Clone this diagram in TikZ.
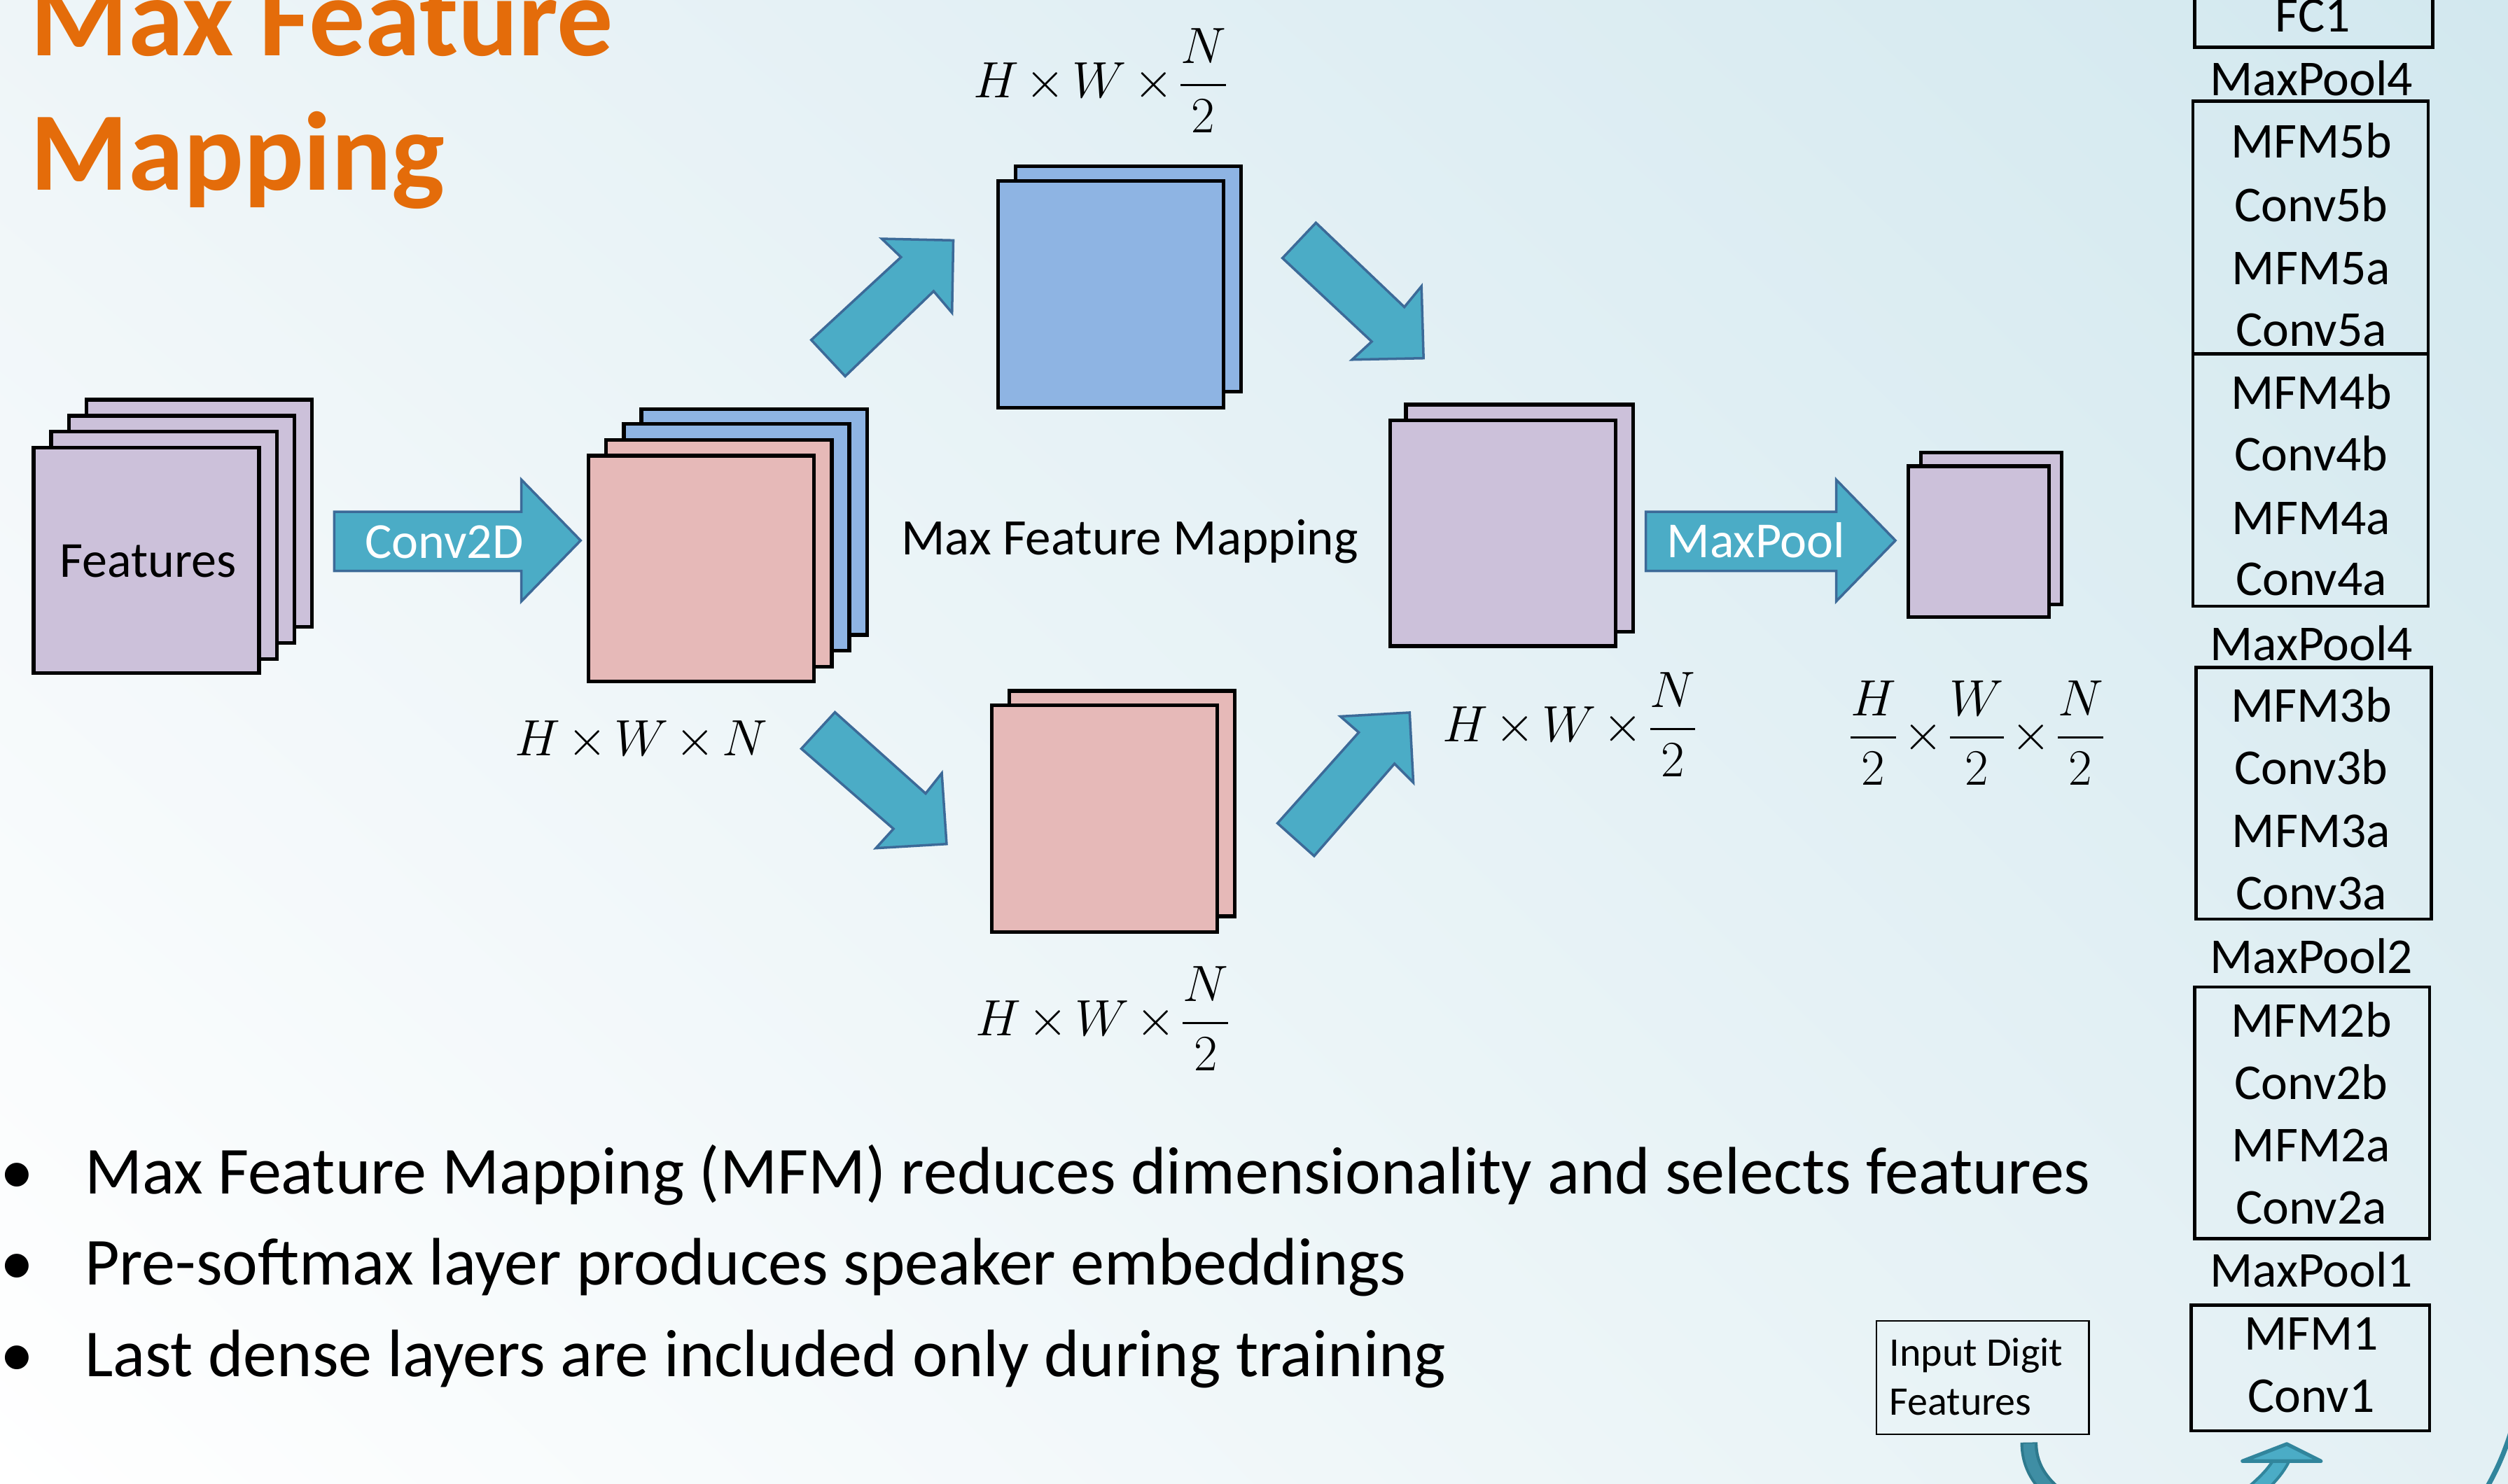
\documentclass[tikz,border=0pt]{standalone}
\usepackage{fontspec}
\setmainfont{Carlito}
\usepackage{amsmath}
\usetikzlibrary{calc,shadings}
\AtBeginDocument{\nulldelimiterspace=0pt\relax\medmuskip=2.5mu plus 1mu minus 2mu\relax}
\definecolor{lav}{HTML}{CCC1DA}
\definecolor{pinkc}{HTML}{E6B9B8}
\definecolor{bluec}{HTML}{8EB4E3}
\definecolor{arrowfill}{HTML}{4BACC6}
\definecolor{arrowedge}{HTML}{3C6A98}
\definecolor{orangec}{HTML}{E46C0A}
\definecolor{curveedge}{HTML}{2E7A8E}
\definecolor{curvefill}{HTML}{3F8EA4}
\definecolor{headedge}{HTML}{31859C}
\definecolor{bgUL}{HTML}{EEF5F8}
\definecolor{bgUR}{HTML}{D2E8EF}
\definecolor{bgLR}{HTML}{E3F0F4}
\tikzset{
  layer/.style={draw=black, line width=1.5pt},
  blockarrow/.style={fill=arrowfill, draw=arrowedge, line width=1pt, line join=miter},
  lbl/.style={inner sep=0pt, outer sep=0pt, font=\fontsize{20.5}{24}\selectfont},
  arrowlbl/.style={lbl, text=white},
  colbox/.style={draw=black, line width=1.3pt},
  coltxt/.style={inner sep=0pt, outer sep=0pt, anchor=base, font=\fontsize{20.4}{24}\selectfont},
  mathlbl/.style={inner sep=0pt, outer sep=0pt, anchor=base west, font=\fontsize{19.3}{23}\selectfont},
  bullettxt/.style={inner sep=0pt, outer sep=0pt, anchor=base west, font=\fontsize{27.3}{32}\selectfont},
  titletxt/.style={inner sep=0pt, outer sep=0pt, anchor=base west, text=orangec, font=\fontsize{45.5}{52}\selectfont\bfseries},
}
\begin{document}
\begin{tikzpicture}[x=0.65pt, y=-0.65pt]
\useasboundingbox (0,0) rectangle (1568,928);
\clip (0,0) rectangle (1568,928);
\shade[upper left=bgUL, upper right=bgUR, lower left=white, lower right=bgLR] (0,0) rectangle (1568,928);

% title
\node[titletxt] (title1) at (19,35) {Max Feature};
\node[titletxt] (title2) at (19,119) {Mapping};

% features stack
\draw[layer, fill=lav] (54,250) rectangle (195,392);
\draw[layer, fill=lav] (43,260) rectangle (184,402);
\draw[layer, fill=lav] (32,270) rectangle (173,412);
\draw[layer, fill=lav] (21,280) rectangle (162,421);
\node[lbl, anchor=base] (feat) at (92.7,361) {Features};

% Conv2D arrow
\draw[blockarrow] (209,320) -- (326,320) -- (326,300) -- (363,338) -- (326,376) -- (326,357) -- (209,357) -- cycle;
\node[arrowlbl, anchor=base] (conv) at (277.7,349) {Conv2D};

% conv output stack
\draw[layer, fill=bluec] (401,256) rectangle (542,397);
\draw[layer, fill=bluec] (390,265) rectangle (531,407);
\draw[layer, fill=pinkc] (379,275) rectangle (520,417);
\draw[layer, fill=pinkc] (368,285) rectangle (509,426);
\node[mathlbl] (dimN) at (322,472.6) {$H\times W\times N$};

% diagonal arrows
\draw[blockarrow] (507.2,212.6) -- (563.3,160.8) -- (551.3,149.3) -- (596,150.3) -- (595.2,195.6) -- (583.7,182.1) -- (528.4,235.3) -- cycle;
\draw[blockarrow] (822.7,139.3) -- (878,192) -- (888.7,179) -- (890,224) -- (845.3,224.9) -- (857.6,213.6) -- (801.8,161.4) -- cycle;
\draw[blockarrow] (522,445.4) -- (578.7,496.2) -- (588.8,483.5) -- (591.8,527.8) -- (547.6,530.4) -- (558.6,518.3) -- (501,468.2) -- cycle;
\draw[blockarrow] (821.6,535.3) -- (871.8,477.6) -- (883.6,489.4) -- (881.3,445.6) -- (838,448) -- (849.5,458) -- (798.7,514.8) -- cycle;

% top blue stack
\draw[layer, fill=bluec] (635,104) rectangle (776,245);
\draw[layer, fill=bluec] (624,113) rectangle (765,255);
\node[mathlbl] (dimTop) at (608.5,61) {$H\times W\times \dfrac{N}{2}$};

% bottom pink stack
\draw[layer, fill=pinkc] (631,432) rectangle (772,573);
\draw[layer, fill=pinkc] (620,441) rectangle (761,583);
\node[mathlbl] (dimBot) at (610,647.6) {$H\times W\times \dfrac{N}{2}$};

\node[lbl, anchor=base, font=\fontsize{20.8}{24}\selectfont] (mfmtxt) at (706.3,347) {Max Feature Mapping};

% merged purple stack
\draw[layer, fill=lav] (879,253) rectangle (1021,395);
\draw[layer, fill=lav] (869,263) rectangle (1010,404);
\node[mathlbl] (dimMid) at (902,464) {$H\times W\times \dfrac{N}{2}$};

% MaxPool arrow
\draw[blockarrow] (1029,320) -- (1148,320) -- (1148,300) -- (1185,338) -- (1148,376) -- (1148,357) -- (1029,357) -- cycle;
\node[arrowlbl, anchor=base] (pool) at (1097.8,348.8) {MaxPool};

% small purple stack
\draw[layer, fill=lav] (1201,283) rectangle (1289,378);
\draw[layer, fill=lav] (1193,291.5) rectangle (1281,386);
\node[mathlbl] (dimQ) at (1157,469) {$\dfrac{H}{2}\times\dfrac{W}{2}\times\dfrac{N}{2}$};

% right column
\draw[colbox] (1372,-20) rectangle (1521,29.6);
\node[coltxt] (fc1) at (1446,20) {FC1};
\node[coltxt] (mp4a) at (1445,59.8) {MaxPool4};
\draw[colbox] (1371,63.3) rectangle (1518,379);
\draw[colbox] (1371,221.2) -- (1518,221.2);
\node[coltxt] (m5b) at (1445,98.5) {MFM5b};
\node[coltxt] (c5b) at (1445,138.7) {Conv5b};
\node[coltxt] (m5a) at (1445,177.9) {MFM5a};
\node[coltxt] (c5a) at (1445,216.6) {Conv5a};
\node[coltxt] (m4b) at (1445,255.8) {MFM4b};
\node[coltxt] (c4b) at (1445,294.5) {Conv4b};
\node[coltxt] (m4a) at (1445,334.2) {MFM4a};
\node[coltxt] (c4a) at (1445,372.4) {Conv4a};
\node[coltxt] (mp4b) at (1445,412.9) {MaxPool4};
\draw[colbox] (1373,417.4) rectangle (1520,574.8);
\node[coltxt] (m3b) at (1445,451.7) {MFM3b};
\node[coltxt] (c3b) at (1445,490.7) {Conv3b};
\node[coltxt] (m3a) at (1445,530) {MFM3a};
\node[coltxt] (c3a) at (1445,568.7) {Conv3a};
\node[coltxt] (mp2) at (1445,608.5) {MaxPool2};
\draw[colbox] (1372,617.2) rectangle (1519,774.7);
\node[coltxt] (m2b) at (1445,648.3) {MFM2b};
\node[coltxt] (c2b) at (1445,687.4) {Conv2b};
\node[coltxt] (m2a) at (1445,726.3) {MFM2a};
\node[coltxt] (c2a) at (1445,765.2) {Conv2a};
\node[coltxt] (mp1) at (1445,804.8) {MaxPool1};
\draw[colbox] (1370,816.2) rectangle (1519,894.8);
\node[coltxt] (m1) at (1445,844) {MFM1};
\node[coltxt] (c1) at (1445,883) {Conv1};

% input box
\draw[black, line width=0.6pt] (1173,826) rectangle (1306,897);
\node[inner sep=0pt, anchor=base west, font=\fontsize{16.5}{20}\selectfont] (inp1) at (1181,854.4) {Input Digit};
\node[inner sep=0pt, anchor=base west, font=\fontsize{16.5}{20}\selectfont] (inp2) at (1181,885) {Features};

% curved arrows at bottom
\coordinate (cl0) at (1268.5,902);
\coordinate (cl1) at (1298,944);
\draw[curveedge, line width=7pt] (cl0) .. controls (1268.5,920) and (1279,932) .. (cl1);
\draw[curvefill, line width=4.6pt] ($(cl0)+(0,0.8)$) .. controls (1268.5,920) and (1279,932) .. (cl1);
\coordinate (cr0) at (1396,944);
\coordinate (cr1) at (1427,912);
\draw[headedge, line width=7pt] (cr0) .. controls (1410,932) and (1421,924) .. (cr1);
\draw[arrowfill, line width=4.6pt] (cr0) .. controls (1410,932) and (1421,924) .. (cr1);
\draw[fill=arrowfill, draw=headedge, line width=1.5pt, line join=round] (1402,913.7) -- (1429.7,903) -- (1451,913.7) -- cycle;
\draw[headedge, line width=2pt] (1578,860) .. controls (1572,895) and (1564,915) .. (1552,935);

% bullets
\node[bullettxt] (b1) at (0,746.4) {•};
\node[bullettxt] (t1) at (53,746.4) {Max Feature Mapping (MFM) reduces dimensionality and selects features};
\node[bullettxt] (b2) at (0,803.6) {•};
\node[bullettxt] (t2) at (53,803.6) {Pre-softmax layer produces speaker embeddings};
\node[bullettxt] (b3) at (0,861) {•};
\node[bullettxt] (t3) at (53,861) {Last dense layers are included only during training};
\end{tikzpicture}
\end{document}
